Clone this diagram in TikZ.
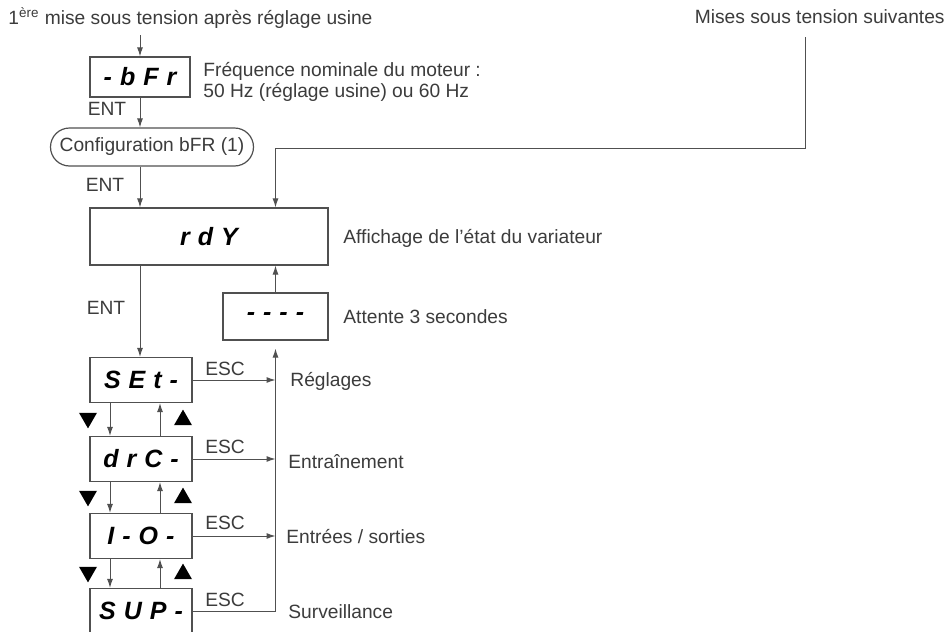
\documentclass[tikz,border=0pt]{standalone}
\usepackage{fontspec}
\setmainfont{Liberation Sans}
\newfontfamily\segfont[WordSpace=1.15]{Liberation Sans}
\usetikzlibrary{arrows.meta,shapes.geometric}
\definecolor{ink}{HTML}{3C3C3C}
\definecolor{wirec}{HTML}{505050}
\begin{document}
\begin{tikzpicture}[x=0.5pt,y=-0.5pt,
  txt/.style={text=ink,font=\fontsize{9.6}{10.8}\selectfont,inner sep=0pt},
  lbl/.style={txt,anchor=west},
  disp/.style={draw=wirec,line width=0.6pt,minimum width=51pt,minimum height=22.5pt,inner sep=0pt,
    font=\segfont\bfseries\itshape\fontsize{12.5}{13}\selectfont,text=black},
  wire/.style={draw=wirec,line width=0.5pt},
  arr/.style={wire,-{Latex[length=4.5pt,width=3pt]}},
  tri/.style={regular polygon,regular polygon sides=3,fill=black,inner sep=0pt,minimum size=10.4pt},
  tridown/.style={tri,shape border rotate=180},
]
\useasboundingbox (0,0) rectangle (950,632);
\fill[white] (0,0) rectangle (950,632);

% headings
\node[lbl] (hdrA) at (8,18) {1\textsuperscript{ère} mise sous tension après réglage usine};
\node[txt,anchor=east] (hdrB) at (945,17) {Mises sous tension suivantes};

% start-up sequence
\node[disp,minimum width=50pt,minimum height=20pt] (bfr) at (140,77) {- b F r};
\node[lbl,align=left] (bfrtxt) at (203,82) {Fréquence nominale du moteur :\\50 Hz (réglage usine) ou 60 Hz};
\node[txt] (ent1) at (107,109) {ENT};
\node[draw=wirec,line width=0.6pt,rounded corners=9.5pt,minimum width=101.5pt,minimum height=19pt,txt] (cfg) at (152,147) {Configuration bFR (1)};
\node[txt] (ent2) at (105,185) {ENT};
\node[disp,minimum width=119pt,minimum height=28.5pt] (rdy) at (209,236.5) {r d Y};
\node[lbl] (rdytxt) at (343,238) {Affichage de l'état du variateur};
\node[disp,minimum width=52.5pt,minimum height=23.5pt] (wait) at (275.5,316.5) {- - - -};
\node[lbl] (waittxt) at (343,317) {Attente 3 secondes};
\node[txt] (ent3) at (106,308) {ENT};

% menu displays
\node[disp] (set) at (141,380) {S E t -};
\node[disp] (drc) at (141,459) {d r C -};
\node[disp] (io)  at (141,536) {I - O -};
\node[disp] (sup) at (141,611) {S U P -};

\foreach \n/\y in {set/369,drc/447,io/523,sup/600}
  \node[txt] (esc\n) at (225,\y) {ESC};

\node[lbl] (lset) at (290,381) {Réglages};
\node[lbl] (ldrc) at (288,462) {Entraînement};
\node[lbl] (lio)  at (286,537) {Entrées / sorties};
\node[lbl] (lsup) at (288,612) {Surveillance};

% navigation keys between menus
\foreach \a/\b/\ym in {set/drc/418,drc/io/496,io/sup/572}{
  \draw[arr] ([xshift=-15.5pt]\a.south) -- ([xshift=-15.5pt]\b.north);
  \draw[arr] ([xshift=9.5pt]\b.north) -- ([xshift=9.5pt]\a.south);
  \node[tridown] at (88,\ym) {};
  \node[tri] at (183,\ym+2) {};
}

% connectors
\coordinate (startA) at (140,35);
\draw[arr] (startA) -- (bfr.north);
\draw[arr] (bfr.south) -- (bfr.south |- cfg.north);
\draw[arr] (bfr.south |- cfg.south) -- (rdy.north -| bfr);
\coordinate (startB) at (805,37);
\coordinate (bend) at (275.5,148);
\draw[arr] (startB) |- (bend) -- (bend |- rdy.north);
\draw[arr] (wait.north) -- (wait.north |- rdy.south);
\draw[arr] (rdy.south -| bfr) -- (set.north -| bfr);

% escape returns
\foreach \n in {set,drc,io}
  \draw[arr] (\n.east) -- (\n.east -| wait.south);
\draw[arr] (sup.east) -- (sup.east -| wait.south) -- ([yshift=-4pt]wait.south);
\end{tikzpicture}
\end{document}
